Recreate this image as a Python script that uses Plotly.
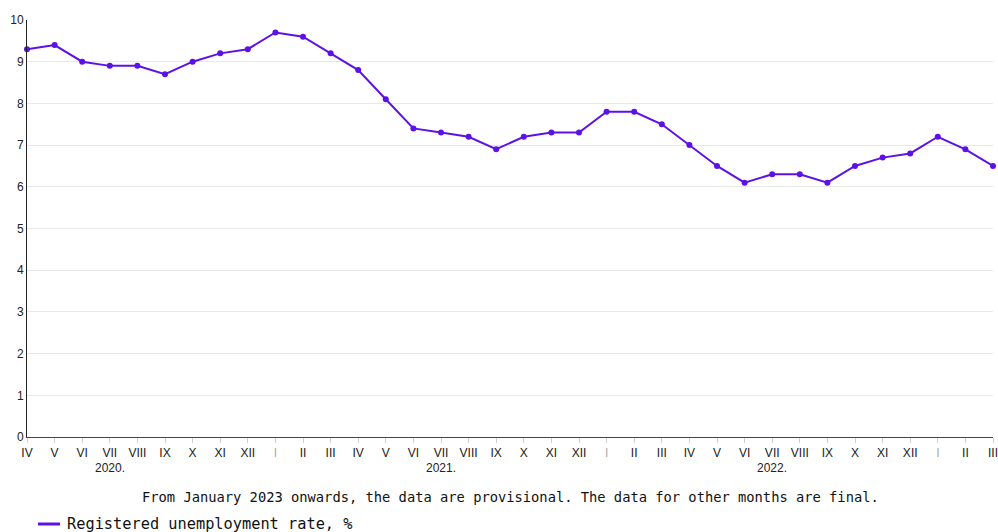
import plotly.graph_objects as go

months = ["IV", "V", "VI", "VII", "VIII", "IX", "X", "XI", "XII",
          "I", "II", "III", "IV", "V", "VI", "VII", "VIII", "IX", "X", "XI", "XII",
          "I", "II", "III", "IV", "V", "VI", "VII", "VIII", "IX", "X", "XI", "XII",
          "I", "II", "III"]
years = [2020] * 9 + [2021] * 12 + [2022] * 12 + [2023] * 3
rate = [9.3, 9.4, 9.0, 8.9, 8.9, 8.7, 9.0, 9.2, 9.3,
        9.7, 9.6, 9.2, 8.8, 8.1, 7.4, 7.3, 7.2, 6.9, 7.2, 7.3, 7.3,
        7.8, 7.8, 7.5, 7.0, 6.5, 6.1, 6.3, 6.3, 6.1, 6.5, 6.7, 6.8,
        7.2, 6.9, 6.5]
year_labels = ["2020.", "2021.", "2022."]
series_name = "Registered unemployment rate, %"
note = "From January 2023 onwards, the data are provisional. The data for other months are final."

x = list(range(len(months)))
ticktext = [("<span style='color:#aaaaaa'>%s</span>" % m) if m == "I" else m for m in months]

W, H = 998, 532
ML, MR, MT, MB = 27, 5, 20, 95
PW, PH = W - ML - MR, H - MT - MB


def px(xp):
    return (xp - ML) / PW


def py(yp):
    return (H - MB - yp) / PH


color = "#5c12e6"
fig = go.Figure()
fig.add_trace(go.Scatter(
    x=x, y=rate, mode="lines+markers", name=series_name,
    line=dict(color=color, width=2),
    marker=dict(color=color, size=6),
    cliponaxis=False, showlegend=False,
))

annotations = []
for yl in year_labels:
    yr = int(yl[:4])
    idx = [i for i, (m, y) in enumerate(zip(months, years)) if y == yr and m == "VII"][0]
    annotations.append(dict(x=idx, y=py(468), xref="x", yref="paper", text=yl,
                            showarrow=False, yanchor="middle",
                            font=dict(family="Liberation Sans, Arial", size=12, color="#222")))
annotations.append(dict(x=0.5, y=py(497), xref="paper", yref="paper", text=note,
                        showarrow=False, yanchor="middle", xanchor="center",
                        font=dict(family="DejaVu Sans Mono", size=13.75, color="#111")))
# legend entry
annotations.append(dict(x=px(65), y=py(524), xref="paper", yref="paper", text=series_name,
                        showarrow=False, yanchor="middle", xanchor="left",
                        font=dict(family="DejaVu Sans Mono", size=15.3, color="#111")))
shapes = [dict(type="line", xref="paper", yref="paper", x0=px(38), x1=px(60),
               y0=py(524), y1=py(524), line=dict(color=color, width=3))]

fig.update_layout(
    width=W, height=H,
    margin=dict(l=ML, r=MR, t=MT, b=MB, autoexpand=False),
    paper_bgcolor="white", plot_bgcolor="white",
    showlegend=False,
    annotations=annotations,
    shapes=shapes,
    xaxis=dict(range=[0, len(months) - 1], tickmode="array", tickvals=x, ticktext=ticktext,
               showgrid=False, zeroline=False, showline=True, linecolor="#444", linewidth=1,
               ticks="outside", ticklen=5, tickcolor="#d0d0d0", automargin=False,
               ticklabeloverflow="allow",
               tickfont=dict(family="Liberation Sans, Arial", size=12, color="#222")),
    yaxis=dict(range=[0, 10], dtick=1, showgrid=True, gridcolor="#e8e8e8", zeroline=False,
               showline=True, linecolor="#222", linewidth=1, ticks="", automargin=False,
               tickfont=dict(family="Liberation Sans, Arial", size=12, color="#222")),
)

fig.write_html("out.html", config={"displayModeBar": False},
               post_script="document.body.style.margin='0';document.body.style.overflow='hidden';")
